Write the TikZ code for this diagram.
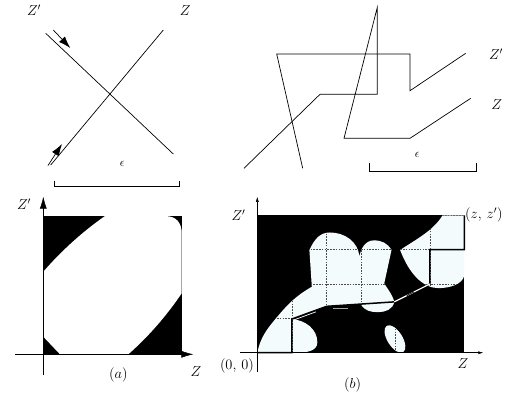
\documentclass[tikz,border=0pt]{standalone}
\usetikzlibrary{arrows.meta}

\definecolor{hellblau}{RGB}{244,251,252}

\tikzset{
	linie/.style={line width=0.7pt},
	beschriftung/.style={font=\fontsize{14.4}{16}\selectfont, inner sep=0pt},
	klein/.style={font=\fontsize{12}{14}\selectfont, inner sep=0pt},
	gitter/.style={dash pattern=on 1.6pt off 1.2pt, black!70, line width=0.45pt},
	weg/.style={line width=1.5pt},
	achse/.style={line width=0.5pt}
}

% helle Bereiche in Bild (b), in Gitterkoordinaten
\newcommand{\helleBereiche}{
	(0,0) to[out=78,in=-130] (0.54,1.0) to[out=50,in=-150] (1.58,1.92)
	-- (1.51,2.99) to[out=65,in=180] (2.1,3.5) to[out=0,in=95] (2.96,2.8)
	to[out=80,in=180] (3.38,3.27) to[out=0,in=120] (3.89,2.99)
	-- (3.68,2.02) to[out=-60,in=105] (3.97,1.48)
	to[out=-100,in=0] (3.5,1.18) to[out=180,in=-60] (3.0,1.41)
	-- (2.01,1.35) -- (1,0.98)
	to[out=-5,in=90] (1.74,0.3) to[out=-90,in=0] (1.14,0) -- cycle
	(4.14,2.99) .. controls (4.6,3.3) and (5.1,3.55) .. (5.37,4) -- (6,4) -- (6,2.25)
	.. controls (5.95,2.0) and (5.6,1.88) .. (5.25,1.88)
	.. controls (4.8,1.88) and (4.4,2.3) .. (4.14,2.99) -- cycle
	(3.99,0.4) ellipse [x radius=0.45, y radius=0.22, rotate=-58]
}

\begin{document}
\begin{tikzpicture}[x=1pt,y=-1pt]
	\useasboundingbox (0,0) rectangle (511,410);
	
	% oben links: zwei sich kreuzende Linien
	\draw[linie] (45.7,33.3) -- (173.3,154);
	\draw[linie] (50.7,165) -- (163.3,30);
	\coordinate (pfeilAstart) at (53.3,30);
	\coordinate (pfeilAende) at (70.3,48);
	\coordinate (pfeilBstart) at (48,165.5);
	\coordinate (pfeilBende) at (62,144);
	\draw[linie, -{Latex[length=12pt,width=8pt]}] (pfeilAstart) -- (pfeilAende);
	\draw[linie, -{Latex[length=12pt,width=8pt]}] (pfeilBstart) -- (pfeilBende);
	\node[beschriftung] (zstrichA) at (34,10.5) {$Z'$};
	\node[beschriftung] (zA) at (185.3,10.5) {$Z$};
	\node[klein] (epsA) at (122.3,164) {$\epsilon$};
	\draw[linie] (54,181) -- (54,186.7) -- (179.3,186.7) -- (179.3,181); % Massstab
	
	% oben rechts: verschlungene Linien
	\draw[linie] (244,168.3) -- (320,94.3) -- (377.3,94.3) -- (377.3,7.3) -- (344,138.3) -- (410,138.3) -- (470.7,98.3);
	\draw[linie] (302.7,168.3) -- (276.7,54) -- (410,54) -- (410,90.7) -- (465.7,53.3);
	\node[beschriftung] (zstrichB) at (496,54) {$Z'$};
	\node[beschriftung] (zB) at (496.7,105) {$Z$};
	\node[klein] (epsB) at (417.3,155) {$\epsilon$};
	\draw[linie] (369.3,163.3) -- (369.3,171.7) -- (476,171.7) -- (476,163.3); % Massstab
	
	% Bild (a)
	\fill (43.3,216) rectangle (181.7,354.3);
	\fill[white] (105,216) -- (165,216) .. controls (176.7,216) and (181.7,223.3) .. (181.7,233.3)
		-- (181.7,293.3) .. controls (166.3,316) and (148.7,336.3) .. (128.3,354.3)
		-- (60,354.3) -- (43.3,336.7) -- (43.3,271.7)
		.. controls (61.6,250.7) and (82.1,232.1) .. (105,216) -- cycle;
	\draw[achse, -{Latex[length=12pt,width=7pt]}] (43.3,375) -- (43.3,196.7);
	\draw[achse, -{Latex[length=12pt,width=7pt]}] (15,354.3) -- (193.3,354.3);
	\node[beschriftung] (zstrichC) at (24,204) {$Z'$};
	\node[beschriftung] (zC) at (196,371.7) {$Z$};
	\node[beschriftung] (bildA) at (118.3,375) {$(a)$};
	
	% Bild (b)
	\begin{scope}[shift={(257.3pt,-352.7pt)}, x=34.5pt, y=34.35pt]
		\fill (0,0) rectangle (6,4);
		\fill[hellblau] \helleBereiche;
		\begin{scope}
			\clip \helleBereiche;
			\foreach \i in {1,...,6} \draw[gitter] (\i,0) -- (\i,4);
			\foreach \j in {1,...,4} \draw[gitter] (0,\j) -- (6,\j);
		\end{scope}
		\draw[black!35, line width=0.8pt] (2.2,1.3) -- (2.63,1.3);
		% Weg von (0,0) nach (z,z')
		\draw[weg] (0,0) -- (1,0) -- (1,0.98) -- (2.01,1.35) -- (3.97,1.48) -- (5,2) -- (5,3) -- (6,3) -- (6,4);
		\draw[white, line width=0.7pt] (1.05,0.95) -- (1.7,1.19);
		\draw[white, line width=1.2pt] (3.97,1.48) -- (5,2);
		\draw[line width=0.7pt] (4.33,1.66) -- (4.54,1.77);
		% Achsen
		\draw[achse, -{Latex[length=5pt,width=3pt]}] (0,-0.55) -- (0,4.54);
		\draw[achse, -{Latex[length=5pt,width=3pt]}] (-0.5,0) -- (6.55,0);
	\end{scope}
	\node[beschriftung] (zstrichD) at (238.5,215) {$Z'$};
	\node[beschriftung, anchor=west] (endpunkt) at (465,215) {$(z,\,z')$};
	\node[beschriftung, anchor=east] (ursprung) at (254,365.5) {$(0,\,0)$};
	\node[beschriftung] (zD) at (463,364) {$Z$};
	\node[beschriftung] (bildB) at (352.5,385) {$(b)$};
\end{tikzpicture}
\end{document}
